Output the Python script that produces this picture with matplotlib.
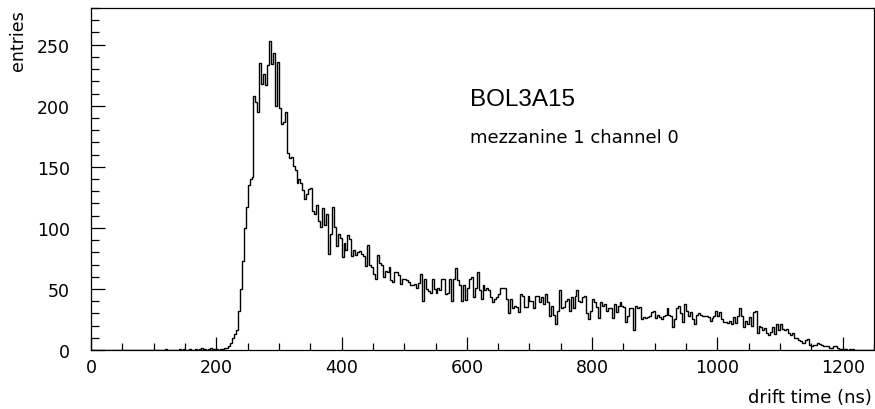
import numpy as np
import matplotlib
matplotlib.use("Agg")
import matplotlib.pyplot as plt
from matplotlib.ticker import MultipleLocator

# drift time spectrum, 400 bins of 3.125 ns between 0 and 1250 ns
t_min, t_max = 0.0, 1250.0
counts = [
    0, 0, 0, 0, 0, 0, 0, 0, 0, 0, 0, 0, 0, 0, 0, 0, 0, 0, 0, 0,
    0, 0, 0, 0, 0, 0, 0, 0, 0, 0, 0, 0, 0, 0, 0, 0, 0, 0, 1, 0,
    0, 0, 0, 0, 0, 1, 0, 1, 0, 0, 1, 0, 0, 1, 0, 1, 2, 1, 1, 0,
    1, 2, 1, 1, 1, 0, 1, 1, 2, 2, 3, 6, 10, 13, 16, 32, 50, 73, 100, 117,
    135, 140, 142, 208, 203, 195, 235, 218, 226, 217, 233, 253, 234, 243, 200, 236, 198, 185, 187, 195,
    161, 157, 158, 151, 147, 137, 140, 137, 131, 124, 128, 132, 133, 114, 111, 119, 106, 101, 116, 102,
    111, 79, 95, 117, 101, 85, 95, 92, 76, 88, 82, 94, 91, 77, 82, 78, 80, 81, 79, 77,
    69, 86, 70, 68, 62, 58, 78, 71, 70, 60, 65, 64, 68, 57, 56, 64, 64, 61, 54, 58,
    58, 57, 56, 53, 53, 54, 51, 55, 62, 40, 58, 50, 48, 47, 58, 50, 47, 51, 49, 58,
    58, 46, 47, 58, 40, 58, 67, 57, 53, 40, 53, 41, 51, 58, 60, 43, 51, 64, 49, 42,
    53, 49, 51, 49, 43, 39, 42, 43, 46, 51, 51, 51, 42, 30, 42, 34, 36, 35, 31, 46,
    44, 35, 35, 44, 40, 40, 34, 44, 44, 39, 43, 38, 46, 39, 28, 36, 29, 21, 32, 49,
    34, 35, 40, 42, 32, 43, 34, 44, 49, 40, 39, 43, 44, 30, 25, 32, 42, 39, 35, 26,
    39, 36, 38, 32, 34, 34, 26, 38, 31, 36, 39, 36, 35, 23, 28, 34, 34, 16, 36, 34,
    35, 25, 27, 26, 27, 28, 31, 32, 26, 29, 27, 25, 28, 29, 34, 29, 28, 19, 25, 34,
    36, 30, 23, 38, 32, 28, 31, 25, 21, 29, 30, 29, 28, 28, 28, 27, 24, 26, 28, 32,
    28, 31, 25, 23, 23, 22, 24, 21, 27, 22, 28, 34, 28, 19, 24, 21, 27, 20, 31, 32,
    14, 20, 19, 16, 18, 14, 12, 15, 19, 13, 21, 16, 21, 17, 16, 17, 14, 12, 14, 10,
    10, 8, 7, 6, 6, 8, 9, 4, 3, 4, 4, 6, 5, 4, 3, 3, 3, 2, 2, 3,
    3, 2, 1, 1, 1, 1, 0, 1, 0, 1, 0, 0, 0, 0, 0, 0, 0, 0, 0, 0,
]
x_major = [0, 200, 400, 600, 800, 1000, 1200]
y_major = [0, 50, 100, 150, 200, 250]
chamber = "BOL3A15"
channel_info = "mezzanine 1 channel 0"

plt.rcParams['font.family'] = ['DejaVu Sans']

fig = plt.figure(figsize=(8.75, 4.10), dpi=100)
ax = fig.add_axes([91 / 875, 1 - 351 / 410, 783 / 875, 342 / 410])

edges = np.linspace(t_min, t_max, len(counts) + 1)
ax.stairs(counts, edges, color='black', linewidth=1.0)

ax.set_xlim(t_min, t_max)
ax.set_ylim(0, 280)
ax.set_xticks(x_major)
ax.set_yticks(y_major)
ax.xaxis.set_minor_locator(MultipleLocator(50))
ax.yaxis.set_minor_locator(MultipleLocator(10))

ax.tick_params(which='both', direction='in', width=0.9, labelsize=12.5, colors='black')
ax.tick_params(axis='x', which='major', length=9.5, pad=6)
ax.tick_params(axis='x', which='minor', length=5)
ax.tick_params(axis='y', which='major', length=10, pad=15)
ax.tick_params(axis='y', which='minor', length=5.5)
for sp in ax.spines.values():
    sp.set_linewidth(0.9)

ax.text(0.484, 0.734, chamber, transform=ax.transAxes, fontsize=17.5,
        family=['Liberation Sans', 'DejaVu Sans'], ha='left', va='center')
ax.text(0.484, 0.623, channel_info, transform=ax.transAxes, fontsize=13,
        ha='left', va='center')

fig.text(18.5 / 875, 1 - 10 / 410, "entries", rotation=90, fontsize=12.5,
         ha='center', va='top')
fig.text(872 / 875, 1 - 398 / 410, "drift time (ns)", fontsize=13,
         ha='right', va='center')

fig.savefig("out.png", dpi=100)
